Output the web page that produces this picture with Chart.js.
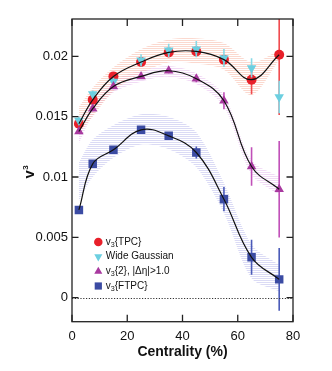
<!DOCTYPE html>
<html>
<head>
<meta charset="utf-8">
<script src="https://cdn.jsdelivr.net/npm/chart.js@4.4.1/dist/chart.umd.min.js"></script>
<style>
  body { margin: 0; background: #fff; }
  canvas { display: block; }
</style>
</head>
<body>
<canvas id="mycanvas" width="332" height="371"></canvas>
<script>
// centrality bins (%)
var centrality = [2.5, 7.5, 15, 25, 35, 45, 55, 65, 75];

// v3 values
var v3Tpc      = [0.01441, 0.0164, 0.01834, 0.01953, 0.02033, 0.02041, 0.01973, 0.01807, 0.02014];
var v3TpcErr   = [0.0002, 0.0002, 0.0002, 0.0002, 0.0002, 0.0003, 0.0003, 0.0012, 0.0050];
var wideGauss    = [0.01469, 0.01688, 0.01792, 0.01967, 0.0205, 0.0206, 0.01987, 0.01904, 0.01663];
var wideGaussErr = [0.0003, 0.0003, 0.0003, 0.0005, 0.00055, 0.00067, 0.00075, 0.0008, 0.00135];
var v3Eta      = [0.01377, 0.01566, 0.01751, 0.01834, 0.01881, 0.01815, 0.01632, 0.01087, 0.00899];
var v3EtaErr   = [0.0002, 0.0002, 0.0002, 0.0002, 0.0002, 0.0003, 0.0007, 0.0016, 0.0040];
var v3Ftpc     = [0.00727, 0.01109, 0.01225, 0.01391, 0.01341, 0.01203, 0.00816, 0.00334, 0.00151];
var v3FtpcErr  = [0.0002, 0.0002, 0.0002, 0.0002, 0.0003, 0.0005, 0.0010, 0.00145, 0.0026];

// systematic bands
var tpcBandHi  = [0.0158, 0.0174, 0.0191, 0.0206, 0.0214, 0.0215, 0.0211, 0.0195, 0.0205];
var tpcBandLo  = [0.0136, 0.0150, 0.0171, 0.0186, 0.0195, 0.0194, 0.0189, 0.0168, 0.0197];
var etaBandHi  = [0.0150, 0.0162, 0.0180, 0.0188, 0.0192, 0.0186, 0.0168, 0.0114, 0.0100];
var etaBandLo  = [0.0128, 0.0151, 0.0170, 0.0179, 0.0183, 0.0177, 0.0158, 0.0102, 0.0085];
var ftpcBandHi = [0.0112, 0.0131, 0.0143, 0.0152, 0.0150, 0.0137, 0.0095, 0.0044, 0.0027];
var ftpcBandLo = [0.0080, 0.0100, 0.0116, 0.0127, 0.0123, 0.0108, 0.0070, 0.0016, 0.0005];

var xTicks = [0, 20, 40, 60, 80];
var yTicks = [0, 0.005, 0.01, 0.015, 0.02];
var seriesNames = ['v3{TPC}', 'Wide Gaussian', 'v3{2}, |\u0394\u03b7|>1.0', 'v3{FTPC}'];

Chart.defaults.font.family = '"Liberation Sans", Arial, Helvetica, sans-serif';
Chart.defaults.color = '#111';

var canvas = document.getElementById('mycanvas');
var ctx = canvas.getContext('2d');

function pts(vals) {
  return centrality.map(function(c, i) { return {x: c, y: vals[i]}; });
}

function stripes(color) {
  var c = document.createElement('canvas');
  c.width = 4; c.height = 2;
  var g = c.getContext('2d');
  g.fillStyle = color;
  g.fillRect(0, 0, 4, 1);
  return ctx.createPattern(c, 'repeat');
}

function band(lo, hi, color) {
  return [
    { data: pts(lo), showLine: true, borderColor: 'rgba(0,0,0,0)', borderWidth: 0, pointRadius: 0, tension: 0.3, fill: false, order: 10 },
    { data: pts(hi), showLine: true, borderColor: 'rgba(0,0,0,0)', borderWidth: 0, pointRadius: 0, tension: 0.3, fill: '-1', backgroundColor: stripes(color), order: 10 }
  ];
}

function curve(vals) {
  return { data: pts(vals), showLine: true, borderColor: '#111', borderWidth: 1.2, pointRadius: 0, tension: 0.4, fill: false, order: 0 };
}

var series = [
  { vals: v3Tpc, err: v3TpcErr, color: '#e8202a', bar: '#f04a4e', style: 'circle', radius: 5, rotation: 0 },
  { vals: wideGauss, err: wideGaussErr, color: '#6ccfe0', bar: '#86d9e6', style: 'triangle', radius: 5.5, rotation: 180 },
  { vals: v3Eta, err: v3EtaErr, color: '#a8399f', bar: '#c04fb8', style: 'triangle', radius: 5.5, rotation: 0 },
  { vals: v3Ftpc, err: v3FtpcErr, color: '#3b4ba3', bar: '#4a5ab8', style: 'rect', radius: 6, rotation: 0 }
];

var datasets = []
  .concat(band(tpcBandLo, tpcBandHi, 'rgba(246,165,140,0.42)'))
  .concat(band(etaBandLo, etaBandHi, 'rgba(220,165,230,0.4)'))
  .concat(band(ftpcBandLo, ftpcBandHi, 'rgba(170,170,232,0.42)'));

series.forEach(function(s, k) {
  datasets.push({
    data: pts(s.vals), showLine: false, pointStyle: s.style, pointRadius: s.radius,
    rotation: s.rotation, backgroundColor: s.color, borderColor: 'rgba(0,0,0,0)', borderWidth: 0,
    order: 4 - k, errorBars: s.err, barColor: s.bar
  });
});
datasets.push(curve(v3Tpc), curve(v3Eta), curve(v3Ftpc));

var errorBarPlugin = {
  id: 'errorBars',
  beforeDatasetDraw: function(chart, args) {
    var ds = chart.data.datasets[args.index];
    if (!ds.errorBars) return;
    var c = chart.ctx, xs = chart.scales.x, ys = chart.scales.y, a = chart.chartArea;
    c.save();
    c.beginPath(); c.rect(a.left, a.top, a.right - a.left, a.bottom - a.top); c.clip();
    c.strokeStyle = ds.barColor; c.lineWidth = 1.6;
    ds.data.forEach(function(p, i) {
      var e = ds.errorBars[i];
      var px = xs.getPixelForValue(p.x);
      c.beginPath();
      c.moveTo(px, ys.getPixelForValue(p.y - e));
      c.lineTo(px, ys.getPixelForValue(p.y + e));
      c.stroke();
    });
    c.restore();
  }
};

function richText(c, text, x, y, size) {
  if (text.indexOf('v3') === 0) {
    c.font = size + 'px "Liberation Sans", Arial, sans-serif';
    c.fillText('v', x, y);
    x += c.measureText('v').width;
    c.font = (size * 0.72) + 'px "Liberation Sans", Arial, sans-serif';
    c.fillText('3', x, y + size * 0.3);
    x += c.measureText('3').width;
    text = text.slice(2);
  }
  c.font = size + 'px "Liberation Sans", Arial, sans-serif';
  c.fillText(text, x, y);
}

var framePlugin = {
  id: 'frame',
  afterDraw: function(chart) {
    var c = chart.ctx, a = chart.chartArea, xs = chart.scales.x, ys = chart.scales.y;
    c.save();
    // zero line
    c.strokeStyle = '#333'; c.lineWidth = 1; c.setLineDash([1.2, 1.6]);
    var y0 = Math.round(ys.getPixelForValue(0)) + 0.5;
    c.beginPath(); c.moveTo(a.left, y0); c.lineTo(a.right, y0); c.stroke();
    c.setLineDash([]);
    // box + inward ticks
    c.strokeStyle = '#222'; c.lineWidth = 1.3;
    c.strokeRect(a.left, a.top, a.right - a.left, a.bottom - a.top);
    c.beginPath();
    xTicks.forEach(function(v) {
      var px = xs.getPixelForValue(v);
      c.moveTo(px, a.bottom); c.lineTo(px, a.bottom - 7);
      c.moveTo(px, a.top); c.lineTo(px, a.top + 7);
    });
    yTicks.forEach(function(v) {
      var py = ys.getPixelForValue(v);
      c.moveTo(a.left, py); c.lineTo(a.left + 6.5, py);
      c.moveTo(a.right, py); c.lineTo(a.right - 6.5, py);
    });
    c.stroke();

    // legend
    var lx = 98.3, rows = [242, 256.7, 271.3, 286];
    series.forEach(function(s, k) {
      c.fillStyle = s.color;
      Chart.helpers.drawPoint(c, { pointStyle: s.style, radius: s.radius * 0.85, rotation: s.rotation, borderWidth: 0 }, lx, rows[k]);
      c.fillStyle = '#111';
      c.textBaseline = 'middle';
      richText(c, seriesNames[k], 105.7, rows[k], 10);
    });

    // y axis title v3
    c.translate(34, 178.5);
    c.rotate(-Math.PI / 2);
    c.textBaseline = 'alphabetic';
    c.fillStyle = '#111';
    c.font = 'bold 15px "Liberation Sans", Arial, sans-serif';
    c.fillText('v', 0, 0);
    var vw = c.measureText('v').width;
    c.font = 'bold 8px "Liberation Sans", Arial, sans-serif';
    c.fillText('3', vw + 0.5, -6.5);
    c.restore();
  }
};

var chart = new Chart(ctx, {
  type: 'scatter',
  data: { datasets: datasets },
  options: {
    responsive: false,
    animation: false,
    events: [],
    layout: { padding: { left: 0, right: 39, top: 19, bottom: 0 } },
    plugins: { legend: { display: false }, tooltip: { enabled: false } },
    scales: {
      x: {
        type: 'linear', min: 0, max: 80,
        afterBuildTicks: function(scale) { scale.ticks = xTicks.map(function(v) { return {value: v}; }); },
        afterFit: function(scale) { scale.height = 49.3; },
        grid: { display: false, drawTicks: false },
        border: { display: false },
        ticks: { font: { size: 13 }, padding: 7, maxRotation: 0, callback: function(v) { return String(v); } },
        title: { display: true, text: 'Centrality (%)', font: { size: 14, weight: 'bold' }, padding: { top: 0, bottom: 10 } }
      },
      y: {
        type: 'linear', min: -0.002, max: 0.0231,
        afterBuildTicks: function(scale) { scale.ticks = yTicks.map(function(v) { return {value: v}; }); },
        afterFit: function(scale) { scale.width = 72; },
        grid: { display: false, drawTicks: false },
        border: { display: false },
        ticks: { font: { size: 13 }, padding: 4, callback: function(v) { return String(v); } }
      }
    }
  },
  plugins: [errorBarPlugin, framePlugin]
});
</script>
</body>
</html>
